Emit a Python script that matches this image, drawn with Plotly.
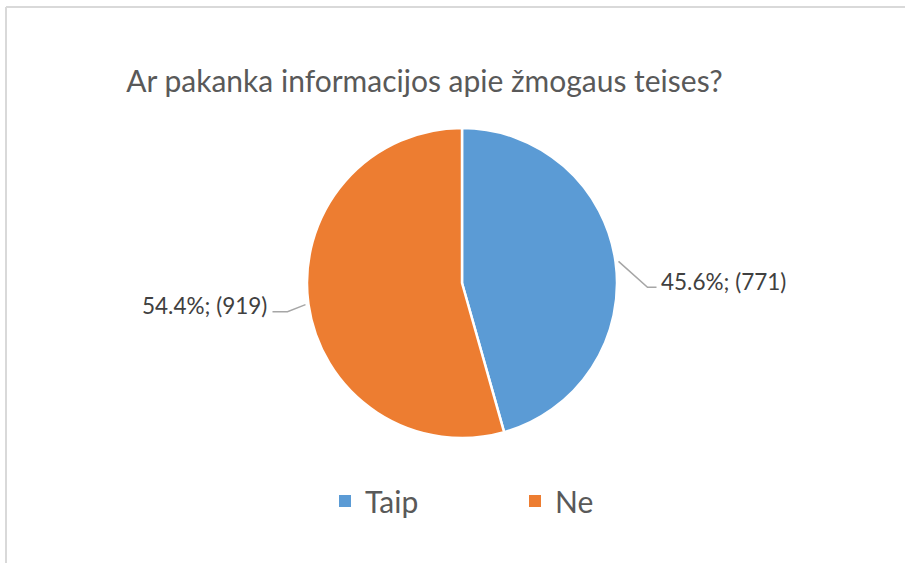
import math
import plotly.graph_objects as go

# ---- data ----
title_text = "Ar pakanka informacijos apie žmogaus teises?"
categories = ["Taip", "Ne"]
counts = [771, 919]
colors = ["#5B9BD5", "#ED7D31"]

W, H = 905, 563
CX, CY, R = 462, 283, 155  # pie center / radius in px

total = sum(counts)
pcts = [c / total * 100 for c in counts]
label_texts = [f"{p:.1f}%; ({c})" for p, c in zip(pcts, counts)]

def px(x):
    return x / W

def py(y):
    return 1 - y / H

fig = go.Figure()
fig.add_trace(go.Pie(
    labels=categories,
    values=counts,
    sort=False,
    direction="clockwise",
    rotation=0,
    marker=dict(colors=colors, line=dict(color="white", width=2.5)),
    textinfo="none",
    hoverinfo="label+value+percent",
    showlegend=False,
    domain=dict(x=[px(CX - R), px(CX + R)], y=[py(CY + R), py(CY - R)]),
))

# legend entries (square swatches like the original)
for cat, col in zip(categories, colors):
    fig.add_trace(go.Scatter(
        x=[None], y=[None], mode="markers", name=cat,
        marker=dict(symbol="square", size=12, color=col),
        hoverinfo="skip",
    ))

# leader lines + labels computed from slice mid-angles
shapes = []
annotations = []
cum = 0
for i, c in enumerate(counts):
    mid = (cum + c / 2) / total * 2 * math.pi
    cum += c
    sx = CX + (R + 3) * math.sin(mid)
    sy = CY - (R + 3) * math.cos(mid)
    right = math.sin(mid) > 0
    if right:
        ex, ey = sx + 29, sy + 26
        tx = ex + 11
        anchor = "left"
        path = f"M{px(sx)},{py(sy)} L{px(ex)},{py(ey)} L{px(tx - 2)},{py(ey)}"
    else:
        ex, ey = sx - 18, sy + 7
        ex2 = ex - 15
        tx = ex2 - 3
        anchor = "right"
        path = f"M{px(sx)},{py(sy)} L{px(ex)},{py(ey)} L{px(ex2)},{py(ey)}"
    shapes.append(dict(type="path", xref="paper", yref="paper", path=path,
                       line=dict(color="#A6A6A6", width=1.5)))
    annotations.append(dict(
        x=px(tx), y=py(ey - 6), xref="paper", yref="paper",
        text=label_texts[i], showarrow=False, xanchor=anchor, yanchor="middle",
        font=dict(family="Lato, Calibri, sans-serif", size=22.5, color="#404040"),
    ))

# chart frame (top and left edges visible)
shapes.append(dict(type="line", xref="paper", yref="paper",
                   x0=px(6), x1=px(W + 5), y0=py(7), y1=py(7),
                   line=dict(color="#D9D9D9", width=2)))
shapes.append(dict(type="line", xref="paper", yref="paper",
                   x0=px(6), x1=px(6), y0=py(7), y1=py(H + 5),
                   line=dict(color="#D9D9D9", width=2)))

fig.update_layout(
    width=W, height=H,
    margin=dict(l=0, r=0, t=0, b=0),
    paper_bgcolor="white",
    plot_bgcolor="white",
    xaxis=dict(visible=False),
    yaxis=dict(visible=False),
    title=dict(text=title_text, x=px(424.5), y=py(81), xanchor="center", yanchor="middle",
               xref="container", yref="container",
               font=dict(family="Lato, Calibri, sans-serif", size=30, color="#595959")),
    showlegend=True,
    legend=dict(orientation="h", x=px(515), y=py(501), xanchor="center", yanchor="middle",
                font=dict(family="Lato, Calibri, sans-serif", size=30, color="#595959"),
                entrywidth=145, entrywidthmode="pixels", traceorder="normal"),
    shapes=shapes,
    annotations=annotations,
)

fig.write_html("out.html", config={"displayModeBar": False},
               post_script="document.body.style.margin='0';")
